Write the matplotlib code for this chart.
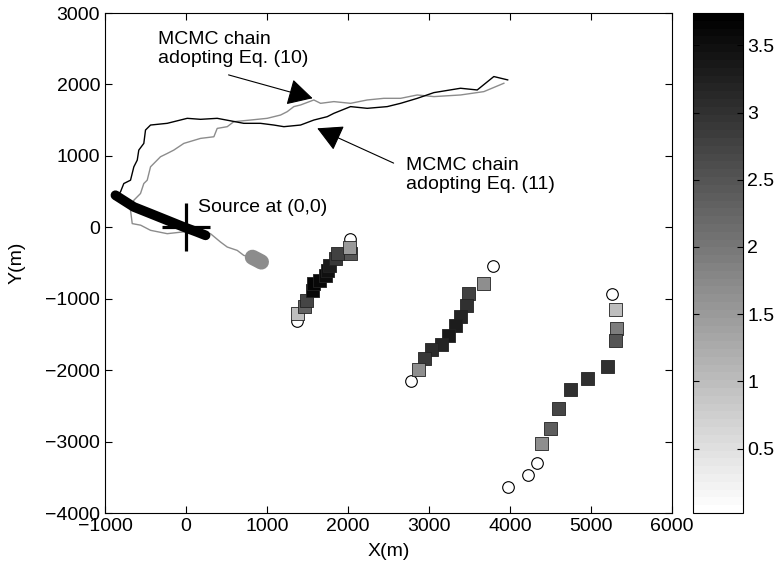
import numpy as np
import matplotlib
matplotlib.use('Agg')
import matplotlib.pyplot as plt
from matplotlib.colors import ListedColormap

plt.rcParams['font.family'] = ['Liberation Sans', 'DejaVu Sans']
plt.rcParams['font.size'] = 14

# sensor array 1
arr1_x = [1371, 1460, 1488, 1558, 1578, 1652, 1723, 1743, 1776, 1846, 1867, 2031, 2023]
arr1_y = [-1212, -1109, -1025, -885, -791, -744, -674, -604, -534, -440, -369, -369, -285]
arr1_v = [1.0, 2.3, 2.7, 3.6, 3.65, 3.6, 3.55, 3.45, 3.3, 2.9, 2.8, 2.5, 1.5]
arr1_cx = [2019, 1373]
arr1_cy = [-159, -1309]

# sensor array 2
arr2_x = [3673, 3488, 3463, 3389, 3327, 3241, 3155, 3031, 2945, 2871]
arr2_y = [-786, -927, -1095, -1250, -1376, -1516, -1643, -1713, -1839, -1993]
arr2_v = [1.7, 2.8, 3.0, 3.2, 3.3, 3.35, 3.2, 3.1, 2.9, 1.7]
arr2_cx = [3784, 2772]
arr2_cy = [-548, -2148]

# sensor array 3
arr3_x = [5303, 5315, 5303, 5204, 4957, 4747, 4599, 4500, 4389]
arr3_y = [-1151, -1418, -1587, -1952, -2120, -2274, -2541, -2822, -3032]
arr3_v = [1.0, 1.9, 2.5, 3.0, 3.0, 3.0, 2.7, 2.4, 1.7]
arr3_cx = [5253, 4327, 4216, 3969]
arr3_cy = [-927, -3299, -3468, -3636]

# MCMC chain, Eq. (11) (black)
ch11_x = [3971, 3800, 3595, 3389, 3060, 2855, 2649, 2484, 2237, 2031, 1825, 1743, 1578,
          1414, 1208, 1084, 919, 713, 385, 179, 15, -232, -438, -500, -521, -583, -602,
          -644, -685, -768, -809, -891]
ch11_y = [2064, 2111, 1923, 1947, 1886, 1806, 1736, 1690, 1666, 1690, 1596, 1549, 1502,
          1432, 1409, 1432, 1456, 1456, 1526, 1512, 1526, 1456, 1432, 1362, 1175, 1081, 941,
          847, 660, 613, 496, 403]
# dense part of chain (11) around the source
blob11_x = [-871, -644, -438, -232, -27, 138, 241]
blob11_y = [449, 285, 192, 98, 4, -66, -112]

# MCMC chain, Eq. (10) (grey)
ch10_x = [3924, 3677, 3389, 3060, 2855, 2649, 2442, 2237, 2031, 1825, 1661, 1578, 1414,
          1331, 1249, 1167, 1002, 796, 590, 509, 385, 344, 179, -27, -151, -232, -315,
          -397, -438, -479, -521, -562, -644, -685, -664, -560, -438, -232, 0, 150, 302,
          426, 509, 632, 713, 830, 900]
ch10_y = [2017, 1900, 1853, 1830, 1853, 1806, 1806, 1783, 1736, 1760, 1736, 1783, 1713,
          1690, 1619, 1572, 1526, 1502, 1479, 1409, 1385, 1268, 1245, 1175, 1081, 1034, 988,
          894, 847, 660, 613, 473, 379, 239, 52, 30, -42, -89, -60, -70, -89,
          -206, -276, -323, -393, -430, -480]
blob10_x = [820, 880, 930]
blob10_y = [-420, -455, -485]

vmin, vmax = 0.02, 3.74
cmap = ListedColormap(plt.cm.gray_r(np.linspace(0, 1, 64)))

fig = plt.figure(figsize=(7.79, 5.72), dpi=100)
ax = fig.add_axes([0.1348, 0.1031, 0.7279, 0.8741])
cax = fig.add_axes([0.8896, 0.1031, 0.0642, 0.8741])

grey = '#8c8c8c'
ax.plot(ch10_x, ch10_y, color=grey, lw=1.0, zorder=2)
ax.plot(blob10_x, blob10_y, color=grey, lw=11, solid_capstyle='round', zorder=2)
ax.plot(ch11_x, ch11_y, color='k', lw=1.0, zorder=3)
ax.plot(blob11_x, blob11_y, color='k', lw=7, solid_capstyle='round', zorder=3)

sc = None
for xs, ys, vs, cx, cy in [(arr1_x, arr1_y, arr1_v, arr1_cx, arr1_cy),
                           (arr2_x, arr2_y, arr2_v, arr2_cx, arr2_cy),
                           (arr3_x, arr3_y, arr3_v, arr3_cx, arr3_cy)]:
    ax.scatter(cx, cy, s=70, marker='o', facecolors='white', edgecolors='k',
               linewidths=0.8, zorder=4)
    sc = ax.scatter(xs, ys, c=vs, s=88, marker='s', cmap=cmap, vmin=vmin, vmax=vmax,
                    edgecolors='#222222', linewidths=0.6, zorder=5)

# source
ax.plot([0], [0], marker='+', color='k', markersize=34, markeredgewidth=2.3, zorder=6)
ax.text(154, 281, 'Source at (0,0)', ha='left', va='center', fontsize=14)

arrow = dict(arrowstyle='-|>,head_length=0.65,head_width=0.35', mutation_scale=24,
             color='k', lw=0.8, shrinkA=0, shrinkB=0)
ax.annotate('', xy=(1563, 1807), xytext=(525, 2134), arrowprops=arrow, zorder=7)
ax.annotate('', xy=(1620, 1386), xytext=(2563, 899), arrowprops=arrow, zorder=7)
ax.text(-352, 2492, 'MCMC chain\nadopting Eq. (10)', ha='left', va='center',
        fontsize=14, linespacing=1.15)
ax.text(2711, 737, 'MCMC chain\nadopting Eq. (11)', ha='left', va='center',
        fontsize=14, linespacing=1.15)

ax.set_xlim(-1000, 6000)
ax.set_ylim(-4000, 3000)
ax.set_xticks(np.arange(-1000, 6001, 1000))
ax.set_yticks(np.arange(-4000, 3001, 1000))
ax.tick_params(direction='in', top=True, right=True, length=5, labelsize=14)
ax.set_xlabel('X(m)', fontsize=14, labelpad=6)
ax.set_ylabel('Y(m)', fontsize=14, labelpad=14)

cb = fig.colorbar(sc, cax=cax)
cb.set_ticks([0.5, 1, 1.5, 2, 2.5, 3, 3.5])
cb.set_ticklabels(['0.5', '1', '1.5', '2', '2.5', '3', '3.5'])
cb.outline.set_linewidth(0.8)
cax.tick_params(direction='in', left=True, right=True, length=4, labelsize=14, pad=3)
cb.minorticks_off()

fig.savefig('out.png', dpi=100)
